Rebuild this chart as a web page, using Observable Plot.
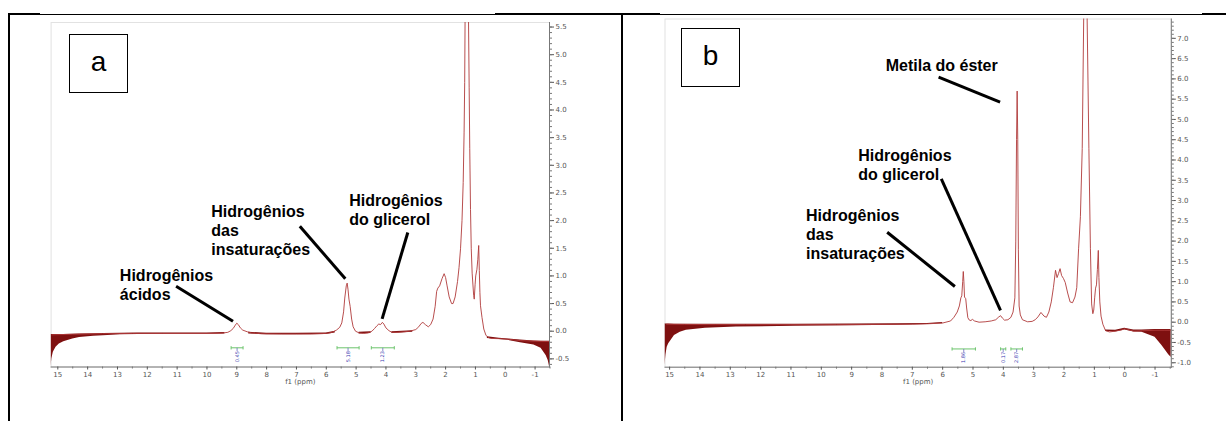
<!DOCTYPE html>
<html><head><meta charset="utf-8">
<script src="https://cdn.jsdelivr.net/npm/d3@7"></script>
<script src="https://cdn.jsdelivr.net/npm/@observablehq/plot@0.6"></script>
<style>
body{margin:0;background:#fff;}
#wrap{position:relative;width:1226px;height:421px;overflow:hidden;background:#fff;}
.panel{position:absolute;top:0;}
.box{position:absolute;border:1.5px solid #000;box-sizing:border-box;font-family:"Liberation Sans",Arial,sans-serif;font-size:28px;display:flex;align-items:center;justify-content:center;background:#fff;padding-bottom:3px;}
.ln{position:absolute;background:#000;}
</style></head><body>
<div id="wrap">
  <div class="panel" id="pa" style="left:0px"></div>
  <div class="panel" id="pb" style="left:620px"></div>
  <div class="box" style="left:69px;top:34px;width:59px;height:59px">a</div>
  <div class="box" style="left:681px;top:28px;width:59px;height:59px">b</div>
  <div class="ln" style="left:8px;top:13px;width:32px;height:2px"></div>
  <div class="ln" style="left:40px;top:14px;width:455px;height:1px"></div>
  <div class="ln" style="left:495px;top:13px;width:165px;height:2px"></div>
  <div class="ln" style="left:660px;top:14px;width:542px;height:1px"></div>
  <div class="ln" style="left:1202px;top:13px;width:24px;height:2px"></div>
  <div class="ln" style="left:8px;top:13px;width:2px;height:408px"></div>
  <div class="ln" style="left:621px;top:13px;width:2px;height:408px"></div>
</div>
<script>
// ---------- Panel a : spectrum (ppm, intensity) ----------
const ppmA = [15.2,14.5,13.5,12.5,11.5,10.5,9.8,9.5,9.3,9.2,9.12,9.05,9.0,8.95,8.88,8.8,8.65,8.5,8.2,7.5,7.0,6.5,6.0,5.8,5.66,5.55,5.48,5.42,5.38,5.33,5.30,5.27,5.24,5.2,5.15,5.1,5.02,4.9,4.75,4.6,4.47,4.38,4.3,4.24,4.18,4.12,4.07,4.0,3.9,3.8,3.6,3.4,3.2,3.0,2.9,2.82,2.76,2.68,2.58,2.5,2.42,2.35,2.3,2.26,2.2,2.12,2.05,2.0,1.95,1.88,1.8,1.75,1.68,1.6,1.55,1.5,1.45,1.41,1.38,1.36,1.345,1.32,1.29,1.26,1.235,1.21,1.19,1.165,1.14,1.11,1.09,1.06,1.04,1.01,0.99,0.95,0.92,0.89,0.87,0.85,0.83,0.78,0.72,0.65,0.58,0.49,0.2,-0.1,-0.5,-1.0,-1.3,-1.483];
const intA = [-0.065,-0.055,-0.045,-0.04,-0.04,-0.04,-0.04,-0.035,-0.02,0.01,0.05,0.11,0.145,0.12,0.06,0.02,-0.01,-0.03,-0.045,-0.05,-0.05,-0.05,-0.04,-0.02,0.02,0.07,0.15,0.35,0.6,0.82,0.87,0.75,0.58,0.45,0.22,0.08,0.0,-0.03,-0.04,-0.03,0.0,0.05,0.1,0.13,0.12,0.16,0.13,0.06,0.01,-0.02,-0.02,-0.01,0.0,0.03,0.08,0.14,0.16,0.12,0.08,0.12,0.22,0.45,0.72,0.78,0.82,0.95,1.04,0.97,0.82,0.62,0.5,0.5,0.62,0.9,1.15,1.49,2.0,2.69,3.6,4.5,5.8,8,11,8,5.8,4.4,3.3,2.2,1.49,1.05,0.89,0.65,0.58,0.85,1.0,1.12,1.3,1.55,1.1,0.7,0.46,0.25,0.04,-0.07,-0.11,-0.13,-0.135,-0.145,-0.17,-0.18,-0.185,-0.185];
// noise band of the baseline (NaN = gap)
const bandPpmA = [15.225,15.2,15.15,15.06,14.95,14.8,14.5,14.27,13.8,13.47,12.9,12.3,11,10,9.4,NaN,8.6,8.0,7,6,5.7,NaN,4.9,4.5,NaN,3.8,3.1,NaN,0.6,0.2,-0.1,-0.51,-0.96,-1.2,-1.37,-1.44,-1.483];
const bandTopA = [-0.06,-0.06,-0.06,-0.06,-0.06,-0.058,-0.055,-0.05,-0.045,-0.04,-0.035,-0.03,-0.03,-0.03,-0.025,NaN,-0.02,-0.035,-0.035,-0.03,0.0,NaN,-0.02,-0.01,NaN,-0.01,0.01,NaN,-0.1,-0.125,-0.14,-0.16,-0.175,-0.18,-0.18,-0.18,-0.18];
const bandBotA = [-0.64,-0.5,-0.38,-0.29,-0.23,-0.19,-0.14,-0.115,-0.09,-0.08,-0.065,-0.058,-0.056,-0.056,-0.05,NaN,-0.05,-0.065,-0.065,-0.06,-0.03,NaN,-0.05,-0.04,NaN,-0.04,-0.02,NaN,-0.13,-0.15,-0.165,-0.21,-0.25,-0.31,-0.44,-0.53,-0.64];
// integrals
const intgFromA = [9.19,5.64,4.49];
const intgToA   = [8.79,4.90,3.72];
const intgLabelA = ["0.45","5.18","1.23"];
// annotations
const noteTextA = ["Hidrogênios\nácidos","Hidrogênios\ndas\ninsaturações","Hidrogênios\ndo glicerol"];
const notePpmA = [12.92,9.854,5.228];
const noteIntA = [0.853,1.826,2.201];
const leadX1A = [11.034,6.887,3.267], leadY1A = [0.814,1.899,1.785];
const leadX2A = [9.127,5.362,4.128], leadY2A = [0.181,0.948,0.224];
const yTicksA = [-0.5,0.0,0.5,1.0,1.5,2.0,2.5,3.0,3.5,4.0,4.5,5.0,5.5];

// ---------- Panel b ----------
const ppmB = [15.1,14.5,13.5,12.5,11,9.5,8,7,6.5,6.0,5.74,5.63,5.52,5.45,5.40,5.37,5.34,5.32,5.30,5.28,5.24,5.21,5.17,5.12,5.07,5.02,4.95,4.8,4.6,4.4,4.25,4.15,4.09,4.03,3.96,3.85,3.75,3.68,3.62,3.59,3.565,3.545,3.525,3.505,3.48,3.44,3.37,3.2,3.05,2.95,2.86,2.76,2.66,2.58,2.5,2.42,2.35,2.28,2.23,2.18,2.13,2.08,2.02,1.96,1.88,1.8,1.72,1.64,1.58,1.52,1.46,1.40,1.35,1.30,1.24,1.18,1.13,1.09,1.05,1.02,0.99,0.96,0.93,0.90,0.87,0.85,0.82,0.78,0.72,0.63,0.5,0.3,0.1,0.0,-0.1,-0.3,-0.6,-1.0,-1.3,-1.536];
const intB = [-0.05,-0.055,-0.06,-0.06,-0.06,-0.06,-0.055,-0.05,-0.04,-0.02,0.03,0.12,0.25,0.4,0.6,0.65,1.0,1.25,1.0,0.62,0.58,0.35,0.11,0.05,0.04,0.07,0.03,0.0,0.01,0.03,0.06,0.13,0.16,0.1,0.05,0.06,0.12,0.25,0.6,2.0,4.5,5.7,4.5,1.8,0.4,0.18,0.06,0.01,0.02,0.06,0.13,0.24,0.15,0.12,0.25,0.5,0.85,1.28,1.1,1.2,1.32,1.15,1.08,0.98,0.72,0.5,0.48,0.62,0.85,1.81,2.6,4.28,7.6,12,7.6,4.28,1.81,0.45,0.21,0.3,0.6,0.84,0.92,1.3,1.77,1.1,0.5,0.15,-0.05,-0.21,-0.24,-0.22,-0.19,-0.16,-0.18,-0.22,-0.21,-0.2,-0.2,-0.2];
const bandPpmB = [15.152,15.12,15.08,15.03,14.84,14.65,14.45,13.82,12.8,10.88,9,7.5,6.5,6.0,NaN,0.63,0.3,0.0,-0.3,-0.57,-1.0,-1.22,-1.33,-1.45,-1.536];
const bandTopB = [-0.04,-0.045,-0.045,-0.045,-0.05,-0.05,-0.05,-0.05,-0.05,-0.05,-0.045,-0.04,-0.03,-0.01,NaN,-0.19,-0.2,-0.15,-0.19,-0.19,-0.18,-0.18,-0.18,-0.18,-0.18];
const bandBotB = [-1.06,-0.8,-0.62,-0.53,-0.33,-0.25,-0.2,-0.15,-0.12,-0.1,-0.085,-0.075,-0.06,-0.04,NaN,-0.23,-0.24,-0.19,-0.24,-0.25,-0.37,-0.57,-0.68,-0.8,-0.87];
const intgFromB = [5.69,4.09,3.75];
const intgToB   = [4.92,3.92,3.37];
const intgLabelB = ["1.86","0.17","2.87"];
const noteTextB = ["Metila do éster","Hidrogênios\ndo glicerol","Hidrogênios\ndas\ninsaturações"];
const notePpmB = [7.877,8.784,10.504];
const noteIntB = [6.355,3.896,2.18];
const leadX1B = [6.134,6.045,7.828], leadY1B = [6.042,3.536,2.219];
const leadX2B = [4.107,4.094,5.597], leadY2B = [5.425,0.289,0.880];
const yTicksB = [-1.0,-0.5,0.0,0.5,1.0,1.5,2.0,2.5,3.0,3.5,4.0,4.5,5.0,5.5,6.0,6.5,7.0];

const xTicks = [15,14,13,12,11,10,9,8,7,6,5,4,3,2,1,0,-1];

const fmtX = d => (d < 0 ? "-" : "") + Math.abs(d);
const fmtY = d => (d < 0 ? "-" : "") + Math.abs(d).toFixed(1);

function panel(c) {
  const idx = d3.range(c.ppm.length);
  const bidx = d3.range(c.bandPpm.length);
  const gidx = d3.range(c.from.length);
  const nidx = d3.range(c.noteText.length);
  const lidx = d3.range(c.lx1.length);
  const mid = i => (c.from[i] + c.to[i]) / 2;
  const minorX = d3.range(-3, 31).map(i => i / 2).filter(v => !Number.isInteger(v));
  const minorY = d3.range(Math.ceil(c.yDomain[0]*10), Math.floor(c.yDomain[1]*10)+1).map(i => i/10);
  const axc = "#777";
  return Plot.plot({
    width: c.width, height: 421,
    marginLeft: c.ml, marginRight: c.mr, marginTop: c.mt, marginBottom: c.mb,
    x: {domain: c.xDomain},
    y: {domain: c.yDomain},
    style: {fontFamily: "DejaVu Sans, sans-serif", background: "transparent", overflow: "visible"},
    marks: [
      Plot.frame({stroke: "#e2e2e2"}),
      Plot.areaY(bidx, {x: i => c.bandPpm[i], y1: i => c.bandTop[i], y2: i => c.bandBot[i], fill: "#7e1010", clip: true}),
      Plot.line(idx, {x: i => c.ppm[i], y: i => c.int[i], stroke: "#b03a3a", strokeWidth: 0.9, clip: true}),
      // integrals
      Plot.link(gidx, {x1: i => c.from[i], x2: i => c.to[i], y1: c.yb, y2: c.yb, stroke: "#6cc46c", strokeWidth: 1}),
      Plot.link(gidx, {x1: i => c.from[i], x2: i => c.from[i], y1: c.yb + c.cap, y2: c.yb - c.cap, stroke: "#6cc46c", strokeWidth: 1}),
      Plot.link(gidx, {x1: i => c.to[i], x2: i => c.to[i], y1: c.yb + c.cap, y2: c.yb - c.cap, stroke: "#6cc46c", strokeWidth: 1}),
      Plot.link(gidx, {x1: mid, x2: mid, y1: c.yb, y2: c.yb - c.stem, stroke: "#6a6ac0", strokeWidth: 0.8}),
      Plot.text(gidx, {x: mid, y: c.ylab, text: i => c.label[i], rotate: -90, fontSize: 5, fill: "#3a3ab0"}),
      // axes
      Plot.frame({anchor: "right", stroke: axc}),
      Plot.frame({anchor: "bottom", stroke: axc}),
      Plot.axisX({ticks: xTicks, tickSize: 3, tickPadding: 2, fontSize: 7, color: "#555", tickFormat: fmtX,
        label: "f1 (ppm)", labelAnchor: "center", labelArrow: "none", labelOffset: 17}),
      Plot.axisX({ticks: minorX, tickSize: 2, tickFormat: () => "", label: null, color: axc}),
      Plot.axisY({anchor: "right", ticks: c.yTicks, tickSize: 4, tickPadding: 2, fontSize: 7, color: "#555", tickFormat: fmtY, label: null}),
      Plot.axisY({anchor: "right", ticks: minorY, tickSize: 2, tickFormat: () => "", label: null, color: axc}),
      // annotations
      Plot.link(lidx, {x1: i => c.lx1[i], y1: i => c.ly1[i], x2: i => c.lx2[i], y2: i => c.ly2[i], stroke: "#000", strokeWidth: 3}),
      Plot.text(nidx, {x: i => c.notePpm[i], y: i => c.noteInt[i], text: i => c.noteText[i], textAnchor: "start", lineAnchor: "middle",
        fontSize: 16, fontWeight: "bold", fontFamily: "Liberation Sans, Arial, sans-serif", lineHeight: 1.19, fill: "#000"})
    ]
  });
}

document.getElementById("pa").appendChild(panel({
  width: 620, ml: 50.6, mr: 71, mt: 22, mb: 54.5,
  xDomain: [15.225, -1.483], yDomain: [-0.647, 5.582],
  ppm: ppmA, int: intA, bandPpm: bandPpmA, bandTop: bandTopA, bandBot: bandBotA,
  from: intgFromA, to: intgToA, label: intgLabelA, yb: -0.30, cap: 0.03, stem: 0.06, ylab: -0.46,
  noteText: noteTextA, notePpm: notePpmA, noteInt: noteIntA,
  lx1: leadX1A, ly1: leadY1A, lx2: leadX2A, ly2: leadY2A, yTicks: yTicksA
}));
document.getElementById("pb").appendChild(panel({
  width: 606, ml: 44.5, mr: 55.2, mt: 18.5, mb: 54.3,
  xDomain: [15.152, -1.536], yDomain: [-1.11, 7.477],
  ppm: ppmB, int: intB, bandPpm: bandPpmB, bandTop: bandTopB, bandBot: bandBotB,
  from: intgFromB, to: intgToB, label: intgLabelB, yb: -0.66, cap: 0.04, stem: 0.08, ylab: -0.87,
  noteText: noteTextB, notePpm: notePpmB, noteInt: noteIntB,
  lx1: leadX1B, ly1: leadY1B, lx2: leadX2B, ly2: leadY2B, yTicks: yTicksB
}));
</script>
</body></html>
